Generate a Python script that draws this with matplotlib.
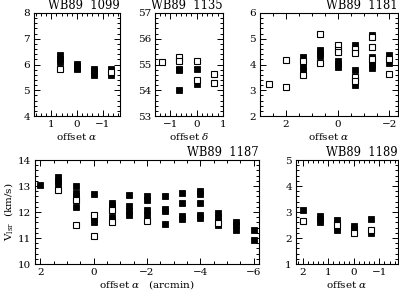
import numpy as np
import matplotlib
matplotlib.use("Agg")
import matplotlib.pyplot as plt
from matplotlib.ticker import MultipleLocator

plt.rcParams['font.family'] = ['DejaVu Serif']
plt.rcParams['mathtext.fontset'] = 'dejavuserif'
plt.rcParams['font.size'] = 7.5

# WB89 1099  (offset alpha, arcmin)
x1099_fill = [0.67, 0.67, 0.67, 0, 0, 0, 0, -0.67, -0.67, -0.67, -0.67, -1.33, -1.33]
v1099_fill = [6.38, 6.22, 6.1, 6.03, 5.95, 5.88, 5.82, 5.84, 5.74, 5.66, 5.58, 5.82, 5.6]
x1099_open = [0.67, -1.33]
v1099_open = [5.84, 5.72]

# WB89 1135  (offset delta)
x1135_fill = [-0.67, -0.67, -0.67, -0.67, 0, 0]
v1135_fill = [55.2, 54.82, 54.78, 54.0, 54.82, 54.25]
x1135_open = [-1.33, -0.67, -0.67, 0, 0, 0.67, 0.67]
v1135_open = [55.08, 55.3, 55.15, 55.12, 54.38, 54.62, 54.27]

# WB89 1181
x1181_fill = [1.33, 1.33, 1.33, 0.67, 0.67, 0.67, 0, 0, 0,
              -0.67, -0.67, -0.67, -1.33, -1.33, -1.33, -1.33, -1.33, -2, -2]
v1181_fill = [4.29, 3.92, 3.8, 4.57, 4.45, 4.33, 4.15, 4.02, 3.9,
              4.74, 3.8, 3.2, 5.15, 4.3, 4.15, 4.0, 3.87, 4.38, 4.05]
x1181_open = [2.67, 2, 2, 1.33, 1.33, 0.67, 0.67, 0, 0, 0,
              -0.67, -0.67, -0.67, -0.67, -1.33, -1.33, -1.33, -2, -2]
v1181_open = [3.25, 4.16, 3.14, 4.12, 3.6, 5.18, 4.05, 4.77, 4.57, 4.47,
              4.6, 4.45, 3.5, 3.35, 5.06, 4.68, 4.2, 4.2, 3.63]

# WB89 1187
x1187_fill = [2, 1.33, 1.33, 1.33, 0.67, 0.67, 0.67, 0.67, 0, 0, 0,
              -0.67, -0.67, -0.67, -0.67, -1.33, -1.33, -1.33, -1.33,
              -2, -2, -2, -2, -2.67, -2.67, -2.67, -2.67,
              -3.33, -3.33, -3.33, -3.33, -4, -4, -4, -4, -4,
              -4.67, -4.67, -4.67, -4.67, -5.33, -5.33, -5.33, -6, -6]
v1187_fill = [13.03, 13.34, 13.2, 13.07, 13.0, 12.72, 12.6, 12.18, 12.68, 11.75, 11.62,
              12.33, 12.22, 11.8, 11.7, 12.66, 12.23, 12.05, 11.9,
              12.6, 12.45, 12.07, 11.9, 12.6, 12.13, 12.03, 11.55,
              12.72, 12.33, 11.84, 11.73, 12.8, 12.68, 12.33, 11.87, 11.78,
              11.95, 11.8, 11.65, 11.5, 11.62, 11.5, 11.3, 11.3, 10.92]
x1187_open = [1.33, 0.67, 0.67, 0, 0, -0.67, -0.67, -2, -4.67]
v1187_open = [12.83, 12.45, 11.5, 11.88, 11.07, 12.08, 11.62, 11.65, 11.58]

# WB89 1189
x1189_fill = [2, 1.33, 1.33, 1.33, 0.67, 0.67, 0.67, 0.67, 0, 0, 0, -0.67, -0.67]
v1189_fill = [3.08, 2.85, 2.72, 2.6, 2.68, 2.56, 2.42, 2.3, 2.45, 2.35, 2.25, 2.72, 2.18]
x1189_open = [2, 0.67, 0, -0.67]
v1189_open = [2.66, 2.5, 2.2, 2.32]

W, H = 399, 291
fig = plt.figure(figsize=(W / 100, H / 100), dpi=100)


def panel(px0, px1, py0, py1):
    return fig.add_axes([px0 / W, 1 - py1 / H, (px1 - px0) / W, (py1 - py0) / H])


def style(ax, title, xlim, ylim, xmaj, xmin, xlabel):
    ax.set_xlim(*xlim)
    ax.set_ylim(*ylim)
    ax.xaxis.set_major_locator(MultipleLocator(xmaj))
    ax.xaxis.set_minor_locator(MultipleLocator(xmin))
    ax.yaxis.set_major_locator(MultipleLocator(1))
    ax.yaxis.set_minor_locator(MultipleLocator(0.2))
    ax.tick_params(which='both', direction='in', top=True, right=True,
                   width=0.7, pad=3)
    ax.tick_params(which='major', length=4)
    ax.tick_params(which='minor', length=2)
    for s in ax.spines.values():
        s.set_linewidth(0.8)
    ax.set_xlabel(xlabel, labelpad=1)
    ax.text(1.0, 1.01, title, transform=ax.transAxes, ha='right', va='bottom',
            fontsize=8.3)
    ax.xaxis.set_major_formatter(plt.FuncFormatter(
        lambda v, p: '%d' % round(v) if round(v) >= 0 else '\u2212%d' % abs(round(v))))


def marks(ax, xf, vf, xo, vo):
    ax.plot(xf, vf, 's', ms=5, mfc='black', mec='black', mew=0.6, ls='none')
    ax.plot(xo, vo, 's', ms=5, mfc='white', mec='black', mew=0.8, ls='none')


ax1 = panel(34, 120, 13, 116)
marks(ax1, x1099_fill, v1099_fill, x1099_open, v1099_open)
style(ax1, 'WB89  1099', (1.67, -1.67), (4, 8), 1, 0.2, r'offset $\alpha$')

ax2 = panel(155, 223, 13, 116)
marks(ax2, x1135_fill, v1135_fill, x1135_open, v1135_open)
style(ax2, 'WB89  1135', (-1.58, 1.0), (53, 57), 1, 0.2, r'offset $\delta$')

ax3 = panel(260, 398, 13, 116)
marks(ax3, x1181_fill, v1181_fill, x1181_open, v1181_open)
style(ax3, 'WB89  1181', (3.0, -2.33), (2, 6), 2, 0.5, r'offset $\alpha$')

ax4 = panel(35, 259, 160, 264)
marks(ax4, x1187_fill, v1187_fill, x1187_open, v1187_open)
style(ax4, 'WB89  1187', (2.2, -6.2), (10, 14), 2, 0.5,
      r'offset $\alpha$   (arcmin)')
ax4.set_ylabel(r'V$_{\rm lsr}$  (km/s)', labelpad=2)

ax5 = panel(296, 398, 160, 264)
marks(ax5, x1189_fill, v1189_fill, x1189_open, v1189_open)
style(ax5, 'WB89  1189', (2.27, -1.73), (1, 5), 1, 0.2, r'offset $\alpha$')

fig.savefig('out.png', dpi=100)
